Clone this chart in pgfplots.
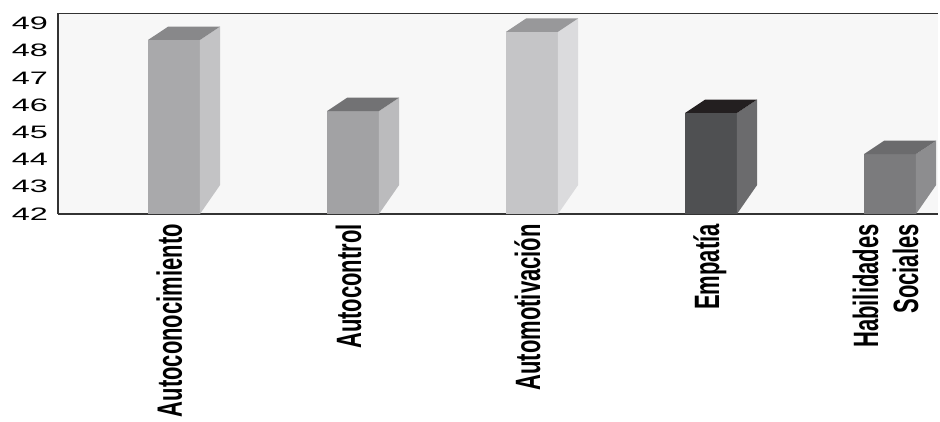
\documentclass[border=0pt]{standalone}
\usepackage{pgfplots}
\pgfplotsset{compat=1.18}
\usepackage{fontspec}
\setmainfont{Liberation Sans}
\definecolor{bg}{HTML}{F7F7F7}
\definecolor{fa}{HTML}{A9A9AB}\definecolor{sa}{HTML}{C3C3C5}\definecolor{ta}{HTML}{88888A}
\definecolor{fb}{HTML}{A2A2A4}\definecolor{sb}{HTML}{BBBBBD}\definecolor{tb}{HTML}{727274}
\definecolor{fc}{HTML}{C5C5C7}\definecolor{sc}{HTML}{DBDBDD}\definecolor{tc}{HTML}{98989A}
\definecolor{fd}{HTML}{4F5052}\definecolor{sd}{HTML}{6B6B6D}\definecolor{td}{HTML}{231F20}
\definecolor{fe}{HTML}{7B7B7D}\definecolor{se}{HTML}{8D8D8F}\definecolor{te}{HTML}{6B6B6D}
\newcommand\lbl[1]{\scalebox{1}[1.6]{\begin{tabular}{@{}r@{}}#1\end{tabular}}}
\begin{document}
\begin{tikzpicture}
\useasboundingbox (0,0) rectangle (940pt,421pt);
\begin{axis}[
  at={(58pt,207pt)}, anchor=south west,
  scale only axis, width=880pt, height=201pt,
  xmin=-0.648, xmax=4.268, ymin=42, ymax=49.38,
  axis x line*=bottom, axis y line*=left,
  axis line style={draw=black!80, line width=1.3pt},
  axis background/.style={fill=bg},
  major tick length=0pt,
  ytick={42,43,44,45,46,47,48,49},
  yticklabel={\scalebox{1.8}[1]{\pgfmathprintnumber[assume math mode=true]{\tick}}},
  yticklabel style={font=\fontsize{18}{18}\selectfont, inner sep=0pt, xshift=-10pt},
  xtick={0,1,2,3,4},
  xticklabels={{\lbl{Autoconocimiento}},{\lbl{Autocontrol}},{\lbl{Automotivación}},{\lbl{Empatía}},{\lbl{Habilidades\\Sociales}}},
  xticklabel style={rotate=90, anchor=east, inner sep=0pt, font=\bfseries\fontsize{22}{25}\selectfont},
  xticklabel shift=10pt,
  every axis plot/.append style={draw=none, mark=none},
]
% Autoconocimiento 48.39
\addplot[fill=fa] coordinates {(-0.145,42) (0.145,42) (0.145,48.39) (-0.145,48.39)} --cycle;
\addplot[fill=sa] coordinates {(0.145,42) (0.257,43.06) (0.257,48.88) (0.145,48.39)} --cycle;
\addplot[fill=ta] coordinates {(-0.145,48.39) (0.145,48.39) (0.257,48.88) (-0.033,48.88)} --cycle;
% Autocontrol 45.78
\addplot[fill=fb] coordinates {(0.855,42) (1.145,42) (1.145,45.78) (0.855,45.78)} --cycle;
\addplot[fill=sb] coordinates {(1.145,42) (1.257,43.06) (1.257,46.27) (1.145,45.78)} --cycle;
\addplot[fill=tb] coordinates {(0.855,45.78) (1.145,45.78) (1.257,46.27) (0.967,46.27)} --cycle;
% Automotivacion 48.69
\addplot[fill=fc] coordinates {(1.855,42) (2.145,42) (2.145,48.69) (1.855,48.69)} --cycle;
\addplot[fill=sc] coordinates {(2.145,42) (2.257,43.06) (2.257,49.18) (2.145,48.69)} --cycle;
\addplot[fill=tc] coordinates {(1.855,48.69) (2.145,48.69) (2.257,49.18) (1.967,49.18)} --cycle;
% Empatia 45.71
\addplot[fill=fd] coordinates {(2.855,42) (3.145,42) (3.145,45.71) (2.855,45.71)} --cycle;
\addplot[fill=sd] coordinates {(3.145,42) (3.257,43.06) (3.257,46.20) (3.145,45.71)} --cycle;
\addplot[fill=td] coordinates {(2.855,45.71) (3.145,45.71) (3.257,46.20) (2.967,46.20)} --cycle;
% Habilidades Sociales 44.20
\addplot[fill=fe] coordinates {(3.855,42) (4.145,42) (4.145,44.20) (3.855,44.20)} --cycle;
\addplot[fill=se] coordinates {(4.145,42) (4.257,43.06) (4.257,44.69) (4.145,44.20)} --cycle;
\addplot[fill=te] coordinates {(3.855,44.20) (4.145,44.20) (4.257,44.69) (3.967,44.69)} --cycle;
\draw[black!80, line width=1.8pt] (rel axis cs:0,1) -- (rel axis cs:1,1);
\end{axis}
\end{tikzpicture}
\end{document}
